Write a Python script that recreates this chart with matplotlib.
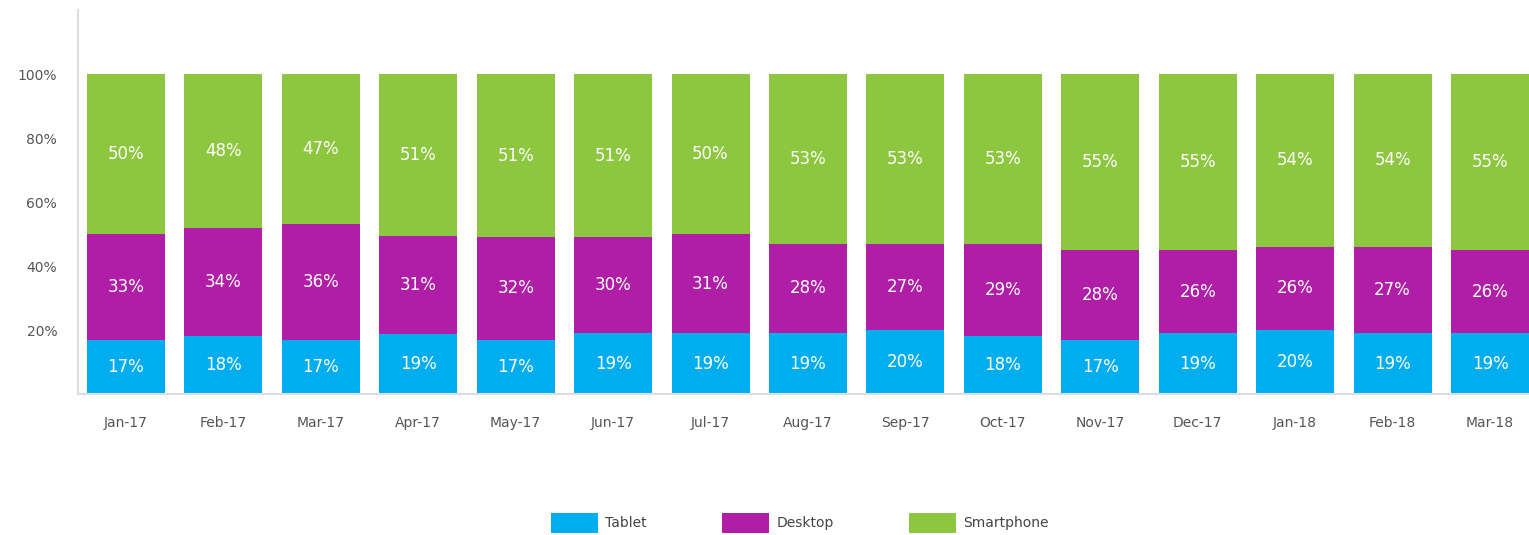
import numpy as np
import matplotlib
matplotlib.use('Agg')
import matplotlib.pyplot as plt

months = ['Jan-17', 'Feb-17', 'Mar-17', 'Apr-17', 'May-17', 'Jun-17', 'Jul-17', 'Aug-17',
          'Sep-17', 'Oct-17', 'Nov-17', 'Dec-17', 'Jan-18', 'Feb-18', 'Mar-18']
tablet = [17, 18, 17, 19, 17, 19, 19, 19, 20, 18, 17, 19, 20, 19, 19]
desktop = [33, 34, 36, 31, 32, 30, 31, 28, 27, 29, 28, 26, 26, 27, 26]
smartphone = [50, 48, 47, 51, 51, 51, 50, 53, 53, 53, 55, 55, 54, 54, 55]

series = [('Tablet', tablet, '#00aeef'),
          ('Desktop', desktop, '#b01ea8'),
          ('Smartphone', smartphone, '#8dc63f')]

fig = plt.figure(figsize=(15.29, 5.35), dpi=100)
ax = fig.add_axes([78 / 1529, 1 - 394 / 535, 1 - 78 / 1529, 384 / 535])

x = np.arange(len(months))
total = np.array(tablet) + np.array(desktop) + np.array(smartphone)
bottom = np.zeros(len(months))
for name, vals, color in series:
    vals = np.array(vals)
    h = vals / total * 100  # 100% stacked
    ax.bar(x, h, 0.8, bottom=bottom, color=color, label=name)
    for xi, b, hh, v in zip(x, bottom, h, vals):
        ax.text(xi, b + hh / 2, f'{v}%', ha='center', va='center',
                color='white', fontsize=12)
    bottom += h

ax.set_xlim(-0.492, 14.4)
ax.set_ylim(0, 120)
ax.set_yticks([20, 40, 60, 80, 100])
ax.set_yticklabels([f'{t}%' for t in [20, 40, 60, 80, 100]])
ax.set_xticks(x)
ax.set_xticklabels(months)
ax.tick_params(length=0, labelsize=10, labelcolor='#555555')
ax.tick_params(axis='x', pad=16)
ax.tick_params(axis='y', pad=15)

for s in ['top', 'right']:
    ax.spines[s].set_visible(False)
for s in ['left', 'bottom']:
    ax.spines[s].set_color('#dddddd')
    ax.spines[s].set_linewidth(1.5)

leg = fig.legend(loc='center', bbox_to_anchor=(0.523, 1 - 523 / 535), ncol=3,
                 frameon=False, fontsize=10, handlelength=3.4, handleheight=1.9,
                 handletextpad=0.5, columnspacing=5.4, borderaxespad=0)
for t in leg.get_texts():
    t.set_color('#444444')

fig.savefig('out.png', dpi=100)
